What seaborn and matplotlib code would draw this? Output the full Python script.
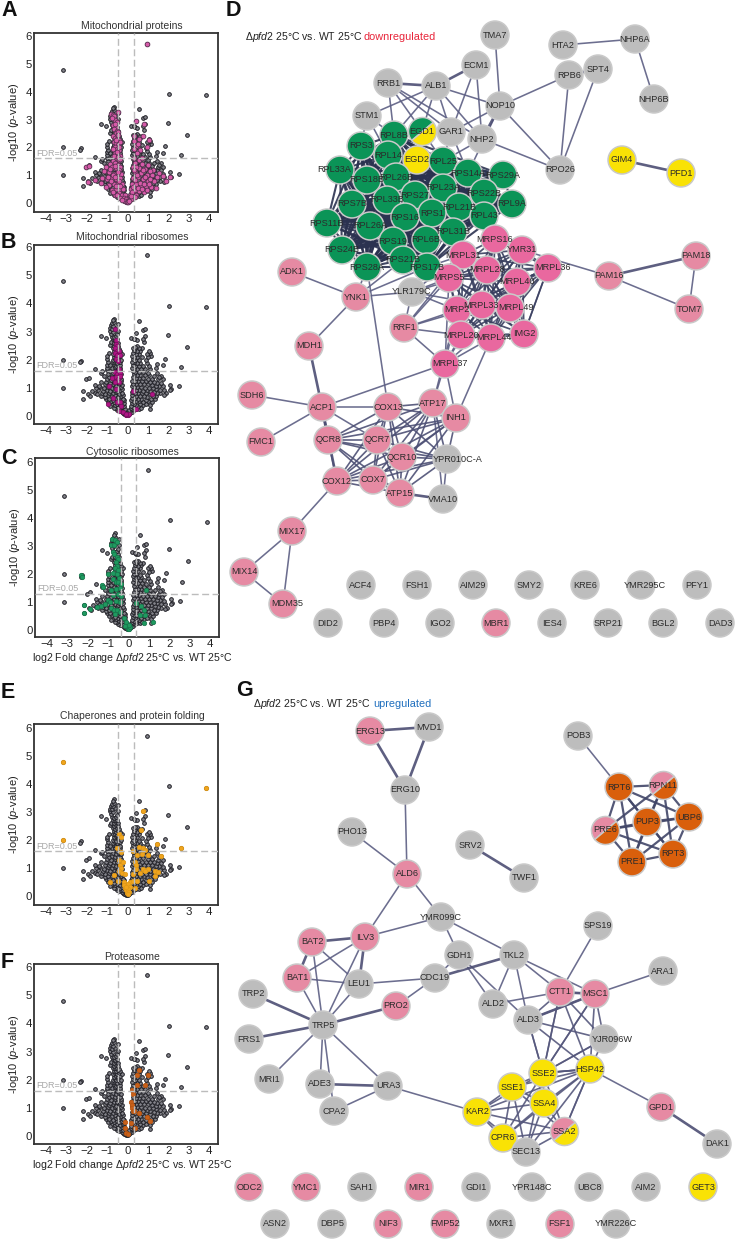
import itertools

import matplotlib
matplotlib.use("Agg")
import matplotlib.pyplot as plt
import pandas as pd
import seaborn as sns
from matplotlib.collections import LineCollection
from matplotlib.markers import MarkerStyle
from matplotlib.transforms import Affine2D

W, H = 735, 1239

# volcano values, (log2 fold change, -log10 p)
far_points = [
    (-3.15, 4.78), (0.95, 5.72), (2.03, 3.92), (3.87, 3.87), (1.98, 2.88), (2.9, 2.45),
    (-3.15, 2.0), (-3.15, 1.0), (-2.3, 1.96), (-2.33, 1.9), (2.6, 1.73), (2.5, 1.05),
    (-2.2, 0.9), (-2.2, 0.6), (1.85, 2.03), (1.75, 1.8), (1.45, 1.85), (1.42, 1.7),
    (-1.6, 1.66), (-1.3, 2.85), (-1.05, 2.76), (0.55, 3.38), (0.4, 2.95), (0.75, 3.05),
    (0.85, 3.08), (0.85, 2.85), (0.8, 2.62), (-2.05, 1.3), (-1.9, 1.35), (-1.95, 0.78),
    (-1.85, 0.72), (2.1, 1.1), (2.15, 0.95), (2.1, 0.92), (1.9, 0.8), (1.8, 0.75),
]
left_arm = [
    (-0.05, 0.04), (-0.1, 0.06), (-0.02, 0.03), (-0.15, 0.08), (-0.2, 0.12), (-0.12, 0.14), (-0.08, 0.1),
    (-0.25, 0.13), (-0.4, 0.18), (-0.3, 0.22), (-0.2, 0.2), (-0.12, 0.24), (-0.5, 0.22), (-0.55, 0.3),
    (-0.45, 0.33), (-0.35, 0.28), (-0.25, 0.31), (-0.15, 0.34), (-0.65, 0.29), (-0.75, 0.41), (-0.6, 0.38),
    (-0.5, 0.44), (-0.35, 0.4), (-0.22, 0.42), (-0.15, 0.46), (-0.85, 0.37), (-0.95, 0.5), (-0.8, 0.52),
    (-0.65, 0.48), (-0.5, 0.55), (-0.4, 0.5), (-0.28, 0.53), (-0.18, 0.56), (-1.05, 0.6), (-0.9, 0.62),
    (-0.7, 0.58), (-0.55, 0.63), (-0.42, 0.6), (-0.3, 0.65), (-0.2, 0.61), (-1.3, 0.72), (-1.1, 0.68),
    (-0.95, 0.73), (-0.75, 0.7), (-0.6, 0.74), (-0.45, 0.68), (-0.32, 0.72), (-0.2, 0.75), (-1.6, 0.82),
    (-1.5, 0.78), (-1.25, 0.83), (-1.1, 0.78), (-0.9, 0.82), (-0.7, 0.8), (-0.55, 0.84), (-0.4, 0.78),
    (-0.25, 0.83), (-1.75, 0.9), (-1.45, 0.92), (-1.2, 0.88), (-1.0, 0.92), (-0.85, 0.9), (-0.65, 0.93),
    (-0.5, 0.88), (-0.35, 0.92), (-0.25, 0.95), (-1.55, 1.0), (-1.35, 1.03), (-1.15, 0.98), (-0.95, 1.02),
    (-0.75, 0.99), (-0.6, 1.03), (-0.45, 0.98), (-0.3, 1.02), (-1.6, 1.1), (-1.4, 1.08), (-1.1, 1.12),
    (-0.9, 1.09), (-0.7, 1.12), (-0.55, 1.08), (-0.4, 1.12), (-0.28, 1.1), (-1.3, 1.2), (-1.05, 1.22),
    (-0.85, 1.18), (-0.65, 1.22), (-0.5, 1.2), (-0.38, 1.18), (-0.3, 1.23), (-1.0, 1.32), (-0.8, 1.28),
    (-0.62, 1.33), (-0.48, 1.3), (-0.33, 1.32), (-1.15, 1.42), (-0.9, 1.38), (-0.75, 1.42), (-0.6, 1.38),
    (-0.45, 1.42), (-0.35, 1.4), (-1.3, 1.52), (-1.25, 1.58), (-0.95, 1.5), (-0.7, 1.53), (-0.55, 1.49),
    (-0.42, 1.52), (-0.32, 1.5), (-1.0, 1.62), (-0.85, 1.6), (-0.62, 1.63), (-0.5, 1.59), (-0.38, 1.62),
    (-1.0, 1.72), (-0.75, 1.7), (-0.6, 1.73), (-0.48, 1.69), (-0.35, 1.72), (-1.0, 1.82), (-0.85, 1.8),
    (-0.65, 1.83), (-0.55, 1.79), (-0.45, 1.82), (-0.35, 1.8), (-0.98, 1.92), (-0.72, 1.9), (-0.6, 1.93),
    (-0.5, 1.89), (-0.38, 1.92), (-1.0, 2.02), (-0.7, 2.0), (-0.62, 2.03), (-0.55, 1.98), (-0.45, 2.02),
    (-0.33, 2.0), (-1.0, 2.12), (-0.68, 2.1), (-0.58, 2.13), (-0.48, 2.09), (-0.38, 2.12), (-0.9, 2.22),
    (-0.7, 2.2), (-0.6, 2.23), (-0.5, 2.19), (-0.42, 2.22), (-0.28, 2.2), (-0.65, 2.32), (-0.55, 2.3),
    (-0.48, 2.33), (-0.38, 2.29), (-0.7, 2.42), (-0.6, 2.4), (-0.5, 2.43), (-0.42, 2.39), (-0.85, 2.52),
    (-0.65, 2.5), (-0.58, 2.53), (-0.48, 2.49), (-0.8, 2.62), (-0.68, 2.6), (-0.55, 2.63), (-0.45, 2.59),
    (-0.72, 2.72), (-0.6, 2.7), (-0.5, 2.73), (-0.75, 2.82), (-0.65, 2.8), (-0.55, 2.83), (-0.8, 2.92),
    (-0.5, 2.9), (-0.85, 3.02), (-0.7, 3.0), (-0.45, 3.03), (-0.85, 3.12), (-0.75, 3.1), (-0.6, 3.13),
    (-0.82, 3.22), (-0.72, 3.2), (-0.45, 3.25), (-0.78, 3.3), (-0.68, 3.33), (-0.65, 3.45), (-0.7, 3.4),
]
right_arm = [
    (0.03, 0.03), (0.08, 0.06), (0.05, 0.1), (0.14, 0.09), (0.2, 0.14), (0.12, 0.17), (0.08, 0.2),
    (0.3, 0.2), (0.22, 0.24), (0.15, 0.27), (0.42, 0.24), (0.55, 0.26), (0.35, 0.31), (0.25, 0.33),
    (0.17, 0.36), (0.65, 0.3), (0.5, 0.36), (0.42, 0.4), (0.3, 0.43), (0.2, 0.45), (0.78, 0.38),
    (0.62, 0.44), (0.9, 0.43), (1.08, 0.25), (1.1, 0.4), (0.75, 0.5), (0.55, 0.52), (0.4, 0.53),
    (0.27, 0.55), (0.18, 0.58), (1.0, 0.52), (1.2, 0.5), (0.9, 0.58), (0.68, 0.6), (0.5, 0.62),
    (0.35, 0.63), (0.22, 0.65), (1.15, 0.62), (1.35, 0.6), (0.98, 0.68), (0.8, 0.7), (0.6, 0.7),
    (0.42, 0.72), (0.28, 0.73), (0.2, 0.76), (1.42, 0.7), (1.25, 0.72), (1.08, 0.78), (0.9, 0.8),
    (0.7, 0.8), (0.52, 0.82), (0.35, 0.83), (0.22, 0.86), (1.6, 0.8), (1.45, 0.82), (1.3, 0.85),
    (1.1, 0.9), (0.95, 0.91), (0.75, 0.9), (0.58, 0.92), (0.42, 0.93), (0.27, 0.94), (1.78, 0.92),
    (1.6, 0.93), (1.42, 0.95), (1.25, 0.98), (1.05, 1.0), (0.85, 1.0), (0.65, 1.02), (0.48, 1.03),
    (0.32, 1.04), (0.22, 1.06), (1.72, 1.05), (1.55, 1.07), (1.38, 1.08), (1.2, 1.1), (1.0, 1.12),
    (0.8, 1.12), (0.6, 1.13), (0.42, 1.14), (0.27, 1.15), (1.65, 1.18), (1.45, 1.18), (1.28, 1.2),
    (1.1, 1.22), (0.9, 1.23), (0.7, 1.23), (0.52, 1.24), (0.35, 1.25), (0.22, 1.26), (1.72, 1.3),
    (1.5, 1.3), (1.2, 1.32), (1.0, 1.33), (0.78, 1.34), (0.58, 1.35), (0.4, 1.36), (0.27, 1.37),
    (1.65, 1.42), (1.55, 1.38), (1.3, 1.43), (1.05, 1.44), (0.85, 1.45), (0.62, 1.46), (0.45, 1.47),
    (0.3, 1.48), (1.45, 1.52), (1.0, 1.54), (0.75, 1.55), (0.55, 1.56), (0.38, 1.57), (0.25, 1.58),
    (1.1, 1.66), (0.85, 1.66), (0.65, 1.67), (0.45, 1.68), (0.3, 1.69), (0.22, 1.72), (1.05, 1.76),
    (0.75, 1.77), (0.55, 1.78), (0.38, 1.79), (0.27, 1.81), (0.95, 1.87), (0.62, 1.88), (0.45, 1.89),
    (0.32, 1.9), (0.22, 1.92), (0.9, 1.98), (0.55, 1.98), (0.38, 1.99), (0.27, 2.01), (1.15, 2.12),
    (1.0, 2.08), (0.72, 2.08), (0.48, 2.09), (0.32, 2.1), (0.22, 2.12), (1.1, 2.22), (0.95, 2.2),
    (0.55, 2.2), (0.4, 2.2), (0.28, 2.22), (1.05, 2.3), (0.6, 2.32), (0.45, 2.3), (0.32, 2.33),
    (0.72, 2.4), (0.55, 2.41), (0.38, 2.4), (0.28, 2.43), (0.45, 2.47), (0.35, 2.45), (0.75, 2.75),
    (0.35, 2.72), (0.45, 2.7), (0.15, 2.78), (0.3, 2.75),
]

mito_proteins = [
    (0.95, 5.72), (-0.8, 3.2), (-0.72, 3.15), (-0.45, 3.27), (-0.65, 3.12), (-0.6, 3.0), (0.4, 2.93), (0.8, 2.85),
    (-0.7, 2.8), (-0.55, 2.72), (-0.65, 2.65), (-0.5, 2.6), (-0.58, 2.5), (-0.48, 2.55), (0.75, 2.42), (0.3, 2.4),
    (-0.7, 2.4), (-0.6, 2.35), (-0.5, 2.3), (-0.42, 2.25), (1.05, 2.28), (0.55, 2.3), (-0.65, 2.2), (-0.55, 2.15),
    (-0.45, 2.1), (-0.35, 2.2), (0.95, 2.0), (0.4, 2.05), (-0.6, 2.0), (-0.5, 1.95), (-0.4, 1.9), (0.6, 1.9),
    (-0.62, 1.8), (-0.5, 1.75), (-0.38, 1.7), (0.45, 1.78), (-0.55, 1.6), (-0.42, 1.55), (-0.7, 1.5), (0.3, 1.6),
    (0.55, 1.55), (-0.85, 1.4), (-0.6, 1.42), (-0.45, 1.38), (-0.35, 1.3), (0.35, 1.42), (0.7, 1.4), (1.0, 1.38),
    (-2.05, 1.28), (-1.9, 1.33), (-1.05, 1.3), (-0.75, 1.28), (-0.55, 1.25), (-0.4, 1.18), (0.25, 1.28), (0.55, 1.25),
    (0.85, 1.22), (1.25, 1.2), (1.55, 1.08), (-1.15, 1.15), (-0.9, 1.1), (-0.65, 1.05), (-0.48, 1.02), (-0.3, 1.05),
    (0.38, 1.1), (0.65, 1.08), (0.95, 1.02), (1.2, 1.0), (1.45, 0.95), (1.75, 0.98), (2.1, 0.92), (-1.95, 0.76),
    (-1.6, 0.82), (-1.25, 0.9), (-1.0, 0.85), (-0.75, 0.9), (-0.55, 0.85), (-0.38, 0.9), (0.28, 0.9), (0.5, 0.92),
    (0.75, 0.85), (1.0, 0.8), (1.3, 0.78), (1.9, 0.78), (-1.3, 0.72), (-0.9, 0.65), (-0.65, 0.7), (-0.45, 0.72),
    (-0.28, 0.68), (0.22, 0.7), (0.42, 0.68), (0.65, 0.62), (0.9, 0.6), (1.15, 0.58), (1.38, 0.55), (-0.75, 0.48),
    (-0.55, 0.5), (-0.35, 0.52), (-0.2, 0.5), (0.15, 0.52), (0.35, 0.48), (0.58, 0.42), (0.8, 0.4), (-0.62, 0.3),
    (-0.42, 0.35), (-0.25, 0.3), (-0.12, 0.3), (0.1, 0.3), (0.25, 0.28), (0.42, 0.28), (-0.35, 0.18), (-0.18, 0.18),
    (-0.08, 0.15), (0.05, 0.12), (0.15, 0.15), (-0.12, 0.07), (-0.04, 0.05), (0.02, 0.03), (0.08, 0.08),
    (-0.52, 2.9), (-0.75, 3.05), (-0.6, 2.85), (-0.48, 2.45), (-0.55, 2.25), (-0.42, 2.02), (-0.72, 1.95), (-0.52, 1.85),
    (-0.65, 1.68), (-0.45, 1.65), (-0.35, 1.58), (-0.6, 1.32), (-0.85, 1.22), (-0.48, 1.12), (-0.72, 1.0), (-0.95, 0.95),
    (-0.6, 0.92), (-0.42, 0.8), (-0.8, 0.78), (-0.55, 0.62), (-0.35, 0.62), (-1.05, 0.58), (-0.7, 0.4), (-0.5, 0.28),
    (0.32, 1.95), (0.5, 2.12), (0.3, 2.22), (0.72, 1.62), (0.42, 1.3), (0.3, 1.18), (0.75, 1.18), (1.08, 1.15),
    (0.48, 1.0), (0.85, 0.92), (1.12, 0.85), (0.35, 0.82), (0.6, 0.72), (0.8, 0.68), (1.05, 0.7), (0.28, 0.58),
    (0.5, 0.55), (0.72, 0.5), (0.98, 0.48), (0.22, 0.4), (0.35, 0.2), (-0.25, 0.12), (0.18, 0.25),
]
mito_ribosomes = [
    (-0.62, 3.08), (-0.55, 2.7), (-0.58, 2.55), (-0.5, 2.48), (-0.62, 2.4), (-0.52, 2.32), (-0.6, 2.25), (-0.42, 2.3),
    (-0.5, 2.15), (-0.38, 2.18), (-0.55, 2.02), (-0.45, 1.95), (-0.42, 1.68), (-0.6, 1.55), (-0.52, 1.5), (-0.38, 1.52),
    (-0.75, 1.35), (-0.55, 1.38), (-0.45, 1.3), (-0.35, 1.42), (-0.62, 1.22), (-0.42, 1.2), (-0.9, 1.05), (-0.55, 0.95),
    (0.25, 0.9), (-0.7, 0.65), (-0.95, 0.42), (-0.5, 0.5), (-0.35, 0.48), (1.2, 0.78), (-0.3, 0.35), (0.42, 0.25),
    (-0.4, 0.18), (-0.2, 0.15), (-0.08, 0.03), (0.0, 0.03), (0.05, 0.06), (-0.05, 0.08),
]
cyto_ribosomes = [
    (-2.33, 1.98), (-2.3, 1.9), (-0.8, 3.25), (-0.65, 3.2), (-0.85, 3.05), (-0.7, 3.02), (-0.55, 3.15), (-0.75, 2.8),
    (-0.7, 2.72), (-0.58, 2.6), (-0.5, 2.55), (-0.62, 2.42), (-0.55, 2.3), (-0.65, 2.2), (-0.5, 2.15), (-1.0, 2.0),
    (-0.75, 2.05), (-0.55, 2.0), (-0.45, 1.85), (-0.75, 1.82), (-0.62, 1.72), (-0.5, 1.7), (-0.38, 1.65), (-1.3, 1.6),
    (-1.25, 1.55), (-0.85, 1.42), (-0.6, 1.45), (-0.42, 1.5), (0.85, 1.42), (-0.75, 1.25), (-0.5, 1.28), (-0.35, 1.22),
    (-1.0, 1.08), (-0.9, 1.0), (-0.6, 1.05), (-0.42, 1.0), (-1.15, 0.92), (-1.35, 0.85), (-1.55, 0.82), (-2.2, 0.9),
    (-2.2, 0.6), (-1.9, 0.75), (-0.85, 0.8), (-0.72, 0.72), (-0.55, 0.72), (-0.42, 0.65), (-0.65, 0.58), (0.35, 0.98),
    (0.6, 0.85), (0.75, 0.72), (0.55, 0.55), (0.82, 0.55), (1.2, 0.3), (0.75, 0.25), (-0.2, 0.42), (-0.1, 0.3),
    (-0.15, 0.15), (-0.02, 0.05), (0.03, 0.03), (0.08, 0.1), (0.02, 0.18),
]
chaperones = [
    (-3.15, 4.78), (3.87, 3.87), (0.75, 3.05), (-3.15, 2.0), (0.65, 2.35), (-0.4, 2.2), (-0.32, 2.12), (1.45, 1.85),
    (2.6, 1.73), (-0.52, 1.7), (-0.3, 1.58), (0.25, 1.6), (0.55, 1.75), (0.75, 1.7), (0.85, 1.65), (0.45, 1.45),
    (0.7, 1.5), (1.0, 1.45), (1.62, 1.42), (-0.4, 1.3), (-0.35, 1.1), (-0.2, 1.2), (0.35, 1.2), (0.42, 1.12),
    (-0.3, 1.0), (-0.4, 0.9), (0.4, 0.95), (0.75, 0.98), (1.0, 0.95), (1.35, 0.88), (1.5, 0.85), (-0.65, 0.75),
    (-0.25, 0.82), (-0.1, 0.78), (0.28, 0.78), (0.62, 0.82), (0.88, 0.88), (1.35, 0.72), (-0.85, 0.5), (-0.45, 0.55),
    (-0.18, 0.5), (0.1, 0.5), (0.25, 0.55), (0.45, 0.55), (1.05, 0.52), (-0.18, 0.38), (-0.1, 0.3), (0.0, 0.42),
    (0.1, 0.32), (0.35, 0.28), (-0.08, 0.2), (-0.03, 0.12), (0.02, 0.25), (0.06, 0.15), (0.0, 0.06), (-0.05, 0.33),
]
proteasome = [
    (0.55, 2.35), (0.45, 2.15), (1.0, 2.15), (0.45, 1.82), (0.85, 1.8), (0.22, 1.65), (0.25, 1.48), (0.18, 1.2),
    (0.2, 1.1), (0.22, 1.0), (0.25, 0.9), (0.3, 0.88), (0.55, 0.82), (0.98, 0.68), (1.08, 0.55), (-0.12, 0.48),
    (0.15, 0.45), (-0.1, 0.3), (0.38, 0.28), (-0.05, 0.12), (0.0, 0.06),
]

x_ticks = [-4, -3, -2, -1, 0, 1, 2, 3, 4]
y_ticks = [0, 1, 2, 3, 4, 5, 6]

# network D: gene, x, y, group
nodes_d = [
    ("TMA7", 495, 35, "other"), ("ECM1", 476, 65, "other"), ("ALB1", 436, 86, "other"), ("RRB1", 388, 83, "other"),
    ("NOP10", 500, 106, "other"), ("STM1", 367, 116, "other"), ("GAR1", 451, 132, "other"), ("NHP2", 482, 139, "other"),
    ("HTA2", 563, 45, "other"), ("NHP6A", 635, 39, "other"), ("NHP6B", 654, 99, "other"), ("RPB6", 569, 75, "other"),
    ("SPT4", 598, 69, "other"), ("RPO26", 560, 170, "other"), ("GIM4", 622, 160, "chaperone"), ("PFD1", 681, 173, "chaperone"),
    ("RPL8B", 394, 135, "cyto"), ("RPS3", 361, 146, "cyto"), ("RPL14", 388, 155, "cyto"), ("EGD2", 417, 160, "chaperone"),
    ("RPL25", 443, 161, "cyto"), ("RPL33A", 340, 170, "cyto"), ("RPS18B", 367, 180, "cyto"), ("RPL26B", 396, 177, "cyto"),
    ("RPS14A", 468, 173, "cyto"), ("RPS29A", 503, 175, "cyto"), ("RPL23A", 443, 188, "cyto"), ("RPS22B", 484, 193, "cyto"),
    ("RPS27", 415, 195, "cyto"), ("RPS7B", 352, 204, "cyto"), ("RPL33B", 387, 200, "cyto"), ("RPL21B", 459, 207, "cyto"),
    ("RPS1", 432, 213, "cyto"), ("RPS16", 405, 217, "cyto"), ("RPL9A", 512, 204, "cyto"), ("RPL43", 484, 216, "cyto"),
    ("RPS11B", 327, 223, "cyto"), ("RPL26A", 370, 226, "cyto"), ("RPS19", 393, 241, "cyto"), ("RPL6B", 426, 240, "cyto"),
    ("RPL31B", 453, 232, "cyto"), ("RPS24B", 342, 250, "cyto"), ("RPS28A", 367, 267, "cyto"), ("RPS21B", 403, 260, "cyto"),
    ("RPS17B", 427, 267, "cyto"), ("MRPS16", 495, 239, "mitorib"), ("MRPL31", 463, 255, "mitorib"), ("MRPS5", 449, 278, "mitorib"),
    ("MRPL28", 487, 270, "mitorib"), ("YMR31", 522, 250, "mitorib"), ("MRPL36", 548, 268, "mitorib"), ("MRPL40", 517, 282, "mitorib"),
    ("MRP2", 457, 310, "mitorib"), ("MRPL33", 482, 305, "mitorib"), ("MRPL49", 510, 308, "mitorib"), ("IMG2", 524, 334, "mitorib"),
    ("MRPL20", 461, 335, "mitorib"), ("MRPL44", 491, 338, "mitorib"), ("MRPL37", 445, 364, "mitorib"), ("PAM16", 609, 276, "mito"),
    ("PAM18", 696, 256, "mito"), ("TOM7", 689, 309, "mito"), ("YLR179C", 412, 292, "other"), ("ADK1", 292, 272, "mito"),
    ("YNK1", 356, 297, "mito"), ("RRF1", 404, 328, "mito"), ("MDH1", 309, 346, "mito"), ("SDH6", 252, 395, "mito"),
    ("ACP1", 322, 407, "mito"), ("COX13", 388, 407, "mito"), ("ATP17", 433, 403, "mito"), ("INH1", 456, 418, "mito"),
    ("FMC1", 261, 442, "mito"), ("QCR8", 328, 440, "mito"), ("QCR7", 377, 440, "mito"), ("QCR10", 402, 457, "mito"),
    ("YPR010C-A", 447, 459, "other"), ("COX12", 337, 481, "mito"), ("COX7", 373, 480, "mito"), ("ATP15", 400, 493, "mito"),
    ("VMA10", 443, 499, "other"), ("MIX17", 292, 531, "mito"), ("MIX14", 244, 572, "mito"), ("MDM35", 283, 604, "mito"),
    ("ACF4", 361, 585, "other"), ("FSH1", 417, 585, "other"), ("AIM29", 473, 585, "other"), ("SMY2", 529, 585, "other"),
    ("KRE6", 585, 585, "other"), ("YMR295C", 641, 585, "other"), ("PFY1", 697, 585, "other"), ("DID2", 328, 623, "other"),
    ("PBP4", 384, 623, "other"), ("IGO2", 440, 623, "other"), ("MBR1", 496, 623, "mito"), ("IES4", 552, 623, "other"),
    ("SRP21", 608, 623, "other"), ("BGL2", 663, 623, "other"), ("DAD3", 720, 623, "other"),
]
# network G
nodes_g = [
    ("ERG13", 370, 731, "mito"), ("MVD1", 429, 727, "other"), ("POB3", 578, 736, "other"), ("ERG10", 405, 790, "other"),
    ("PHO13", 352, 832, "other"), ("SRV2", 470, 845, "other"), ("TWF1", 524, 878, "other"), ("ALD6", 407, 874, "mito"),
    ("RPT6", 619, 787, "proteasome"), ("UBP6", 689, 817, "proteasome"), ("PUP3", 647, 822, "proteasome"),
    ("RPT3", 673, 854, "proteasome"), ("PRE1", 632, 862, "proteasome"), ("YMR099C", 441, 917, "other"),
    ("ILV3", 365, 937, "mito"), ("BAT2", 312, 942, "mito"), ("GDH1", 459, 955, "other"), ("TKL2", 514, 955, "other"),
    ("BAT1", 297, 978, "mito"), ("LEU1", 359, 984, "other"), ("CDC19", 435, 978, "other"), ("ALD2", 493, 1004, "other"),
    ("TRP2", 253, 994, "other"), ("PRO2", 396, 1006, "mito"), ("TRP5", 323, 1025, "other"), ("FRS1", 249, 1039, "other"),
    ("MRI1", 269, 1079, "other"), ("ADE3", 320, 1084, "other"), ("URA3", 388, 1086, "other"), ("CPA2", 334, 1111, "other"),
    ("KAR2", 477, 1112, "chaperone"), ("SSE1", 512, 1087, "chaperone"), ("CPR6", 503, 1138, "chaperone"),
    ("SPS19", 598, 926, "other"), ("ARA1", 663, 971, "other"), ("CTT1", 560, 992, "mito"), ("MSC1", 595, 994, "mito"),
    ("ALD3", 528, 1020, "other"), ("YJR096W", 604, 1039, "other"), ("SSE2", 543, 1073, "chaperone"),
    ("HSP42", 590, 1069, "chaperone"), ("SSA4", 544, 1103, "chaperone"), ("SEC13", 526, 1152, "other"),
    ("GPD1", 661, 1107, "mito"), ("DAK1", 717, 1144, "other"), ("ODC2", 249, 1187, "mito"), ("YMC1", 306, 1187, "mito"),
    ("SAH1", 362, 1187, "other"), ("MIR1", 419, 1187, "mito"), ("GDI1", 476, 1187, "other"), ("YPR148C", 532, 1187, "other"),
    ("UBC8", 589, 1187, "other"), ("AIM2", 646, 1187, "other"), ("GET3", 703, 1187, "chaperone"), ("ASN2", 275, 1224, "other"),
    ("DBP5", 332, 1224, "other"), ("NIF3", 388, 1224, "mito"), ("FMP52", 445, 1224, "mito"), ("MXR1", 501, 1224, "other"),
    ("FSF1", 560, 1224, "mito"), ("YMR226C", 616, 1224, "other"),
]
# two-colour genes: gene, x, y, upper-left group, lower-right group
split_nodes = [
    ("EGD1", 422, 131, "cyto", "chaperone"), ("RPN11", 663, 785, "mito", "proteasome"),
    ("PRE6", 605, 830, "mito", "proteasome"), ("SSA2", 564, 1131, "mito", "chaperone"),
]
label_shift = {"RPL33A": -6, "YPR010C-A": 11, "MDM35": 4, "MRPL37": 5, "YMR295C": 4, "YJR096W": 8, "MRPL36": 5,
               "MRPL49": 6, "MRPL33": -1, "MRPL44": 3}

cyto_cluster = [n[0] for n in nodes_d if n[3] == "cyto"]
mitorib_cluster = [n[0] for n in nodes_d if n[3] == "mitorib" and n[0] not in ("MRPL37",)]
resp_cluster = ["COX13", "ATP17", "INH1", "QCR8", "QCR7", "QCR10", "YPR010C-A", "COX12", "COX7", "ATP15"]
prot_cluster = ["RPT6", "RPN11", "UBP6", "PUP3", "PRE6", "RPT3", "PRE1"]
chap_cluster = ["SSE1", "SSE2", "HSP42", "SSA4", "KAR2", "SSA2", "CPR6", "SEC13"]
mito_g_cluster = ["CTT1", "MSC1", "ALD3", "YJR096W", "SSE2", "HSP42"]

edges_thin = """TMA7:NOP10 ECM1:GAR1 ECM1:NHP2 RRB1:NHP2 RRB1:GAR1 ALB1:NOP10 ALB1:NHP2 ALB1:GAR1 ALB1:EGD1
NOP10:GAR1 NOP10:RPB6 NHP2:RPO26 NOP10:RPO26 RPB6:RPO26 SPT4:RPO26 HTA2:NHP6A NHP6A:NHP6B RRB1:EGD1 RRB1:RPL8B
STM1:RPL8B STM1:RPS3 STM1:RPL14 STM1:ALB1 NHP2:RPL25 GAR1:RPL25 NOP10:RPS14A GAR1:RPS14A ALB1:RPL8B EGD1:RPL25 EGD2:RPL25
YLR179C:YNK1 YLR179C:MRPL31 YLR179C:MRPS5 YLR179C:MRPL28 YLR179C:MRP2 YLR179C:MRPL33 YLR179C:RRF1 YLR179C:RPS17B RRF1:MRP2 RRF1:MRPL20
RRF1:MRPL31 RRF1:MRPS5 RRF1:MRPL33 RRF1:MRPL37 YNK1:RPS17B YNK1:RPS21B YNK1:RPS28A YNK1:ADK1 YNK1:MDH1 RPS28A:COX13
ACP1:MRPL37 ACP1:COX13 ACP1:SDH6 ACP1:FMC1 ACP1:QCR7 MRPL37:ATP17 MRPL37:INH1 MRPL44:INH1 MRPL20:MRPL37 MRPL44:MRPL37
MRPL33:MRPL37 MRP2:MRPL37 MRPS5:MRPL37 MRPL49:MRPL37 MRP2:ATP17 VMA10:YPR010C-A VMA10:ATP17 COX12:MIX17 MIX17:MIX14 MIX17:MDM35
MIX14:MDM35 PAM16:YMR31 PAM16:TOM7 PAM18:TOM7 IMG2:MRPL36 MRPL36:MRPL40 RPS17B:MRPS5 RPS17B:MRPL31
ALD6:ERG10 PHO13:ALD6 ALD6:ILV3 ALD6:YMR099C POB3:RPT6 BAT2:LEU1 BAT2:TRP5 BAT1:TRP5 BAT1:LEU1 ILV3:TRP5
LEU1:TRP5 LEU1:CDC19 PRO2:CDC19 TRP5:MRI1 TRP5:ADE3 TRP5:CPA2 TRP5:URA3 CPA2:URA3 URA3:KAR2 ILV3:YMR099C
YMR099C:GDH1 YMR099C:TKL2 GDH1:CDC19 GDH1:ALD2 GDH1:ALD3 TKL2:ALD2 TKL2:ALD3 TKL2:CTT1 TKL2:MSC1 ALD2:CTT1
ARA1:MSC1 SPS19:CTT1 HSP42:GPD1 ALD3:SSE2 CTT1:SSE2 MSC1:SSE2 YJR096W:SSE2 SSE2:HSP42 SSA2:HSP42 ILV3:BAT1""".split()
edges_thick = """ECM1:ALB1 RRB1:ALB1 NOP10:NHP2 RPB6:SPT4 GIM4:PFD1 MDH1:ACP1 ACP1:QCR8 ACP1:COX12 PAM16:PAM18 ATP15:VMA10
ERG13:MVD1 ERG13:ERG10 MVD1:ERG10 SRV2:TWF1 BAT2:ILV3 BAT1:BAT2 ILV3:LEU1 TRP5:PRO2 TRP5:TRP2 TRP5:FRS1 ADE3:URA3
CDC19:TKL2 GPD1:DAK1 CTT1:MSC1 ALD3:MSC1""".split()

sns.set_theme(style="white")
plt.rcParams["font.family"] = ["Liberation Sans", "DejaVu Sans"]
plt.rcParams["mathtext.fontset"] = "custom"
plt.rcParams["mathtext.rm"] = "Liberation Sans"
plt.rcParams["mathtext.it"] = "Liberation Sans:italic"
plt.rcParams["mathtext.default"] = "regular"

group_colors = {
    "other": "#bdbdbd", "mito": "#e68aa3", "mitorib": "#e9689f", "cyto": "#0b9457",
    "chaperone": "#f9e205", "proteasome": "#d95f0c",
}

background = pd.DataFrame(far_points + left_arm + right_arm, columns=["fc", "logp"])

fig = plt.figure(figsize=(W / 100, H / 100), dpi=100)

# full-figure layer for both networks and the panel letters, in picture units
net = fig.add_axes([0, 0, 1, 1])
net.set_xlim(0, W)
net.set_ylim(H, 0)
net.axis("off")


def add_volcano(left, right, top, bottom, y0, y6, title, title_y, marked, face, edge,
                fdr=1.6, vlines=(-0.45, 0.32), xlabel=False, size=10):
    ax = fig.add_axes([left / W, 1 - bottom / H, (right - left) / W, (bottom - top) / H])
    ax.patch.set_alpha(0)
    x0, per_x = left + 93.5, 20.4
    per_y = (y0 - y6) / 6
    ax.set_xlim((left - x0) / per_x, (right - x0) / per_x)
    ax.set_ylim((y0 - bottom) / per_y, (y0 - top) / per_y)
    sns.scatterplot(data=background, x="fc", y="logp", ax=ax, s=7, color="#85858c",
                    edgecolor="#1f1f25", linewidth=0.7, legend=False, zorder=2)
    sel = pd.DataFrame(marked, columns=["fc", "logp"])
    sns.scatterplot(data=sel, x="fc", y="logp", ax=ax, s=size, color=face,
                    edgecolor=edge, linewidth=0.55, legend=False, zorder=3)
    ax.axhline(fdr, color="#bcbcbc", lw=1.0, dashes=(5, 2.5), zorder=4)
    for v in vlines:
        ax.axvline(v, color="#bcbcbc", lw=1.0, dashes=(5, 2.5), zorder=4)
    ax.text(-4.45, fdr + 0.02, "FDR=0.05", color="#a8a8a8", fontsize=6.5, va="bottom", zorder=5)
    ax.set_xticks(x_ticks)
    ax.set_yticks(y_ticks)
    ax.tick_params(length=0, labelsize=8.2, pad=1.5, labelcolor="#222222")
    for s in ax.spines.values():
        s.set_color("#333333")
        s.set_linewidth(1.3)
    ax.set_xlabel("")
    ax.set_ylabel("-log10 ($\\mathit{p}$-value)", fontsize=8.0, color="#222222", labelpad=3.5)
    net.text(132, title_y, title, ha="center", va="center", fontsize=7.5, color="#333333")
    if xlabel:
        net.text(132.5, bottom + 21, "log2 Fold change $\\Delta\\mathit{pfd2}$ 25°C vs. WT 25°C",
                 ha="center", va="center", fontsize=7.6, color="#222222")
    return ax


add_volcano(34, 218, 33, 212, 203, 36, "Mitochondrial proteins", 26, mito_proteins, "#d65aa8", "#54304e", size=12)
add_volcano(34, 218, 245, 424, 416, 247, "Mitochondrial ribosomes", 237, mito_ribosomes, "#b01585", "#7a1060")
add_volcano(35, 219, 458, 637, 630, 462, "Cytosolic ribosomes", 452, cyto_ribosomes, "#1f9a60", "#17784c",
            fdr=1.3, vlines=(-0.38, 0.37), xlabel=True)
add_volcano(34, 218, 724, 905, 896, 728, "Chaperones and protein folding", 716, chaperones, "#f0a51e", "#e09a18")
add_volcano(34, 218, 964, 1144, 1136, 967, "Proteasome", 957, proteasome, "#c8601a", "#b85510", xlabel=True)

all_nodes = nodes_d + nodes_g
pos = {n[0]: (n[1], n[2]) for n in all_nodes}
pos.update({n[0]: (n[1], n[2]) for n in split_nodes})


def segs(pairs):
    return [[pos[a], pos[b]] for a, b in pairs]


def draw_edges(pairs, color, lw, alpha=0.9):
    net.add_collection(LineCollection(segs(pairs), colors=color, linewidths=lw, alpha=alpha, zorder=1))


draw_edges([e.split(":") for e in edges_thin], "#5c5e83", 1.15)
draw_edges([e.split(":") for e in edges_thick], "#4c4e73", 1.9)
draw_edges(itertools.combinations(cyto_cluster, 2), "#2b3250", 1.5)
draw_edges(itertools.combinations(mitorib_cluster, 2), "#3a4060", 1.25)
draw_edges(itertools.combinations(resp_cluster, 2), "#4d5075", 1.2)
draw_edges(itertools.combinations(prot_cluster, 2), "#414668", 1.6)
draw_edges(itertools.combinations(chap_cluster, 2), "#55577c", 1.2)
draw_edges(itertools.combinations(mito_g_cluster, 2), "#55577c", 1.2)

node_df = pd.DataFrame(all_nodes, columns=["gene", "x", "y", "group"])
sns.scatterplot(data=node_df, x="x", y="y", hue="group", palette=group_colors, ax=net, s=405,
                edgecolor="#c9c9c9", linewidth=1.1, legend=False, zorder=2)
net.set_xlim(0, W)
net.set_ylim(H, 0)

for gene, x, y, first, second in split_nodes:
    half = MarkerStyle("o", fillstyle="left", transform=Affine2D().rotate_deg(-50))
    net.plot([x], [y], marker=half, markersize=20.2, markerfacecolor=group_colors[first],
             markerfacecoloralt=group_colors[second], markeredgecolor="#c9c9c9",
             markeredgewidth=1.1, linestyle="none", zorder=2)

for gene, x, y in [(n[0], n[1], n[2]) for n in all_nodes + split_nodes]:
    net.text(x + label_shift.get(gene, 0), y, gene, ha="center", va="center", fontsize=6.6,
             color="#2b2b2b", zorder=4)

net.text(245, 37, "$\\Delta\\mathit{pfd2}$ 25°C vs. WT 25°C", fontsize=7.6, color="#222222", va="center")
net.text(364, 37, "downregulated", fontsize=7.8, color="#e8253a", va="center")
net.text(253, 704, "$\\Delta\\mathit{pfd2}$ 25°C vs. WT 25°C", fontsize=7.6, color="#222222", va="center")
net.text(373, 704, "upregulated", fontsize=7.8, color="#1f6fbe", va="center")

panel_letters = ["A", "B", "C", "D", "E", "F", "G"]
letter_x = [1, 1, 1, 226, 1, 1, 236]
letter_y = [11, 242, 458, 10, 693, 963, 691]
for letter, x, y in zip(panel_letters, letter_x, letter_y):
    net.text(x, y, letter, fontsize=15.5, fontweight="bold", color="#111111", va="center", ha="left")

fig.savefig("out.png", dpi=100)
